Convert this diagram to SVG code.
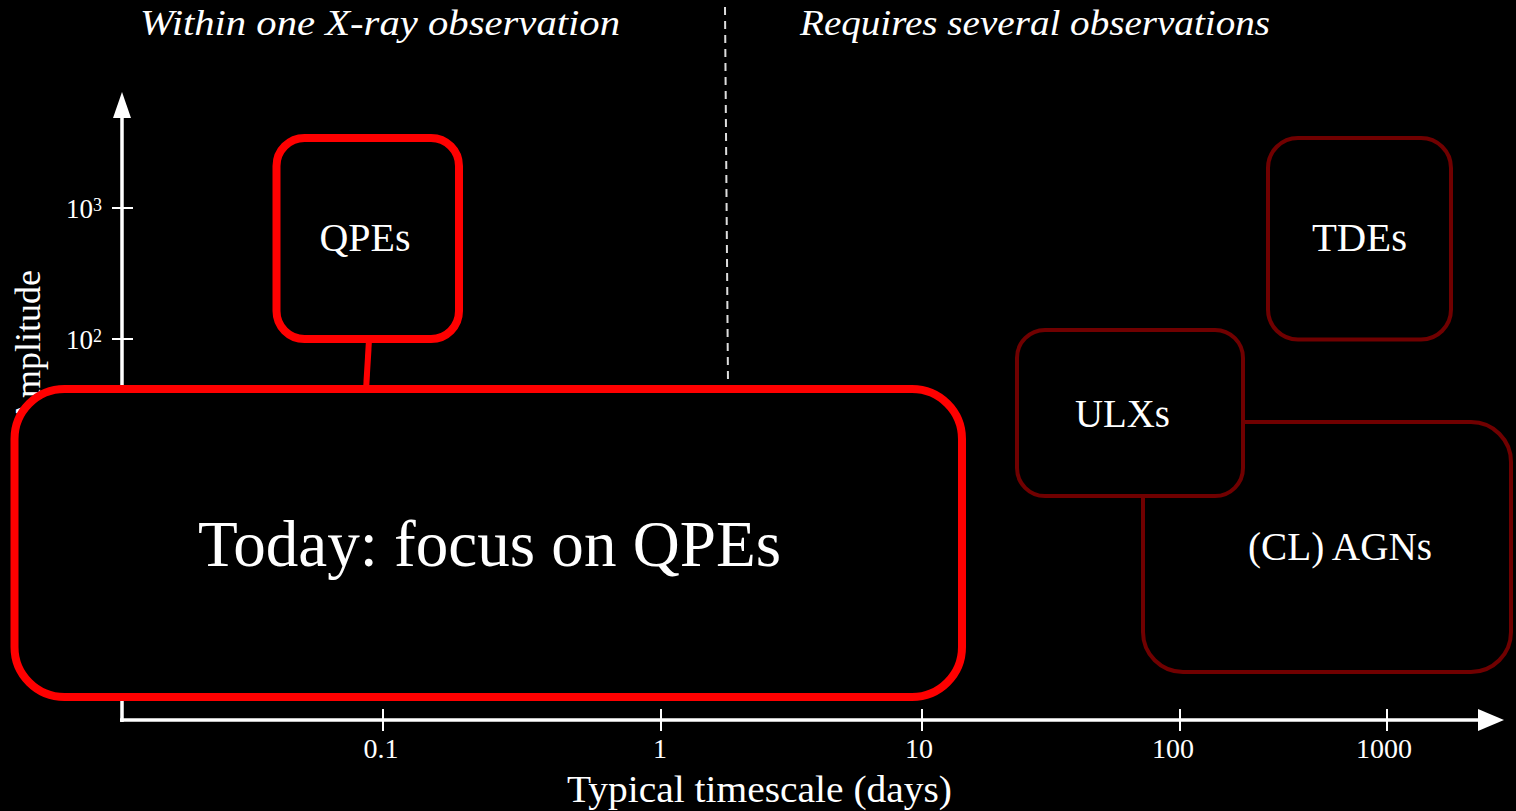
<svg xmlns="http://www.w3.org/2000/svg" width="1516" height="811" viewBox="0 0 1516 811">
  <style>
    .bg { fill: #000; }
    .axis { stroke: #fff; stroke-width: 3.5; fill: none; }
    .tick { stroke: #fff; stroke-width: 2; }
    .arrow { fill: #fff; }
    .t { font-family: "Liberation Serif", "DejaVu Serif", serif; fill: #fff; }
    .tick-lbl { font-size: 28px; text-anchor: middle; }
    .pow { font-size: 27px; text-anchor: end; }
    .sup { font-size: 18px; }
    .head { font-size: 36px; font-style: italic; }
    .lbl { font-size: 40px; text-anchor: middle; }
    .box-hot { fill: #000; stroke: #ff0000; stroke-width: 8; }
    .box-dim { fill: #000; stroke: #700000; stroke-width: 4; }
    .link { stroke: #ff0000; stroke-width: 6; fill: none; }
    .divider { stroke: #dddddd; stroke-width: 2; stroke-dasharray: 8 6; }
  </style>

  <rect class="bg" x="0" y="0" width="1516" height="811"/>

  <!-- headings either side of the divider -->
  <text class="t head" x="140" y="35" textLength="480" lengthAdjust="spacingAndGlyphs">Within one X-ray observation</text>
  <text class="t head" x="800" y="35" textLength="470" lengthAdjust="spacingAndGlyphs">Requires several observations</text>
  <line class="divider" x1="725" y1="7" x2="728" y2="384"/>

  <!-- axes -->
  <g id="axes">
    <line class="axis" x1="122" y1="722" x2="122" y2="112"/>
    <polygon class="arrow" points="122,92 131,118 113,118"/>
    <line class="axis" x1="120" y1="720" x2="1484" y2="720"/>
    <polygon class="arrow" points="1504,720 1478,709 1478,731"/>

    <line class="tick" x1="112" y1="208" x2="133" y2="208"/>
    <line class="tick" x1="112" y1="339" x2="133" y2="339"/>
    <text class="t pow" x="93" y="218">10</text>
    <text class="t sup" x="93" y="211">3</text>
    <text class="t pow" x="93" y="349">10</text>
    <text class="t sup" x="93" y="342">2</text>

    <line class="tick" x1="383" y1="709" x2="383" y2="731"/>
    <line class="tick" x1="661" y1="709" x2="661" y2="731"/>
    <line class="tick" x1="922" y1="709" x2="922" y2="731"/>
    <line class="tick" x1="1180" y1="709" x2="1180" y2="731"/>
    <line class="tick" x1="1387" y1="709" x2="1387" y2="731"/>
    <text class="t tick-lbl" x="381" y="758">0.1</text>
    <text class="t tick-lbl" x="660" y="758">1</text>
    <text class="t tick-lbl" x="919" y="758">10</text>
    <text class="t tick-lbl" x="1173" y="758">100</text>
    <text class="t tick-lbl" x="1384" y="758">1000</text>

    <text class="t" x="567" y="802" font-size="38" textLength="385" lengthAdjust="spacingAndGlyphs">Typical timescale (days)</text>
    <text class="t" font-size="36" text-anchor="end" transform="translate(40,270) rotate(-90)">Amplitude</text>
  </g>

  <!-- connectors -->
  <g id="connectors">
    <line class="link" x1="369" y1="340" x2="366" y2="390"/>
  </g>

  <!-- nodes -->
  <g id="node-qpes">
    <rect class="box-hot" x="276.5" y="138" width="182.5" height="201" rx="28"/>
    <text class="t lbl" x="365" y="251" textLength="91" lengthAdjust="spacingAndGlyphs">QPEs</text>
  </g>

  <g id="node-today">
    <rect class="box-hot" x="14.5" y="389" width="947.5" height="308" rx="50"/>
    <text class="t" x="489.5" y="566" font-size="66" text-anchor="middle" textLength="583" lengthAdjust="spacingAndGlyphs">Today: focus on QPEs</text>
  </g>

  <g id="node-tdes">
    <rect class="box-dim" x="1268" y="138" width="183" height="201.5" rx="30"/>
    <text class="t lbl" x="1359.5" y="251" textLength="95" lengthAdjust="spacingAndGlyphs">TDEs</text>
  </g>

  <g id="node-agns">
    <rect class="box-dim" x="1143" y="422" width="368" height="250" rx="40"/>
    <text class="t lbl" x="1340" y="560" textLength="184" lengthAdjust="spacingAndGlyphs">(CL) AGNs</text>
  </g>

  <g id="node-ulxs">
    <rect class="box-dim" x="1017" y="330" width="226" height="166" rx="28"/>
    <text class="t lbl" x="1122.5" y="427" textLength="95" lengthAdjust="spacingAndGlyphs">ULXs</text>
  </g>
</svg>
